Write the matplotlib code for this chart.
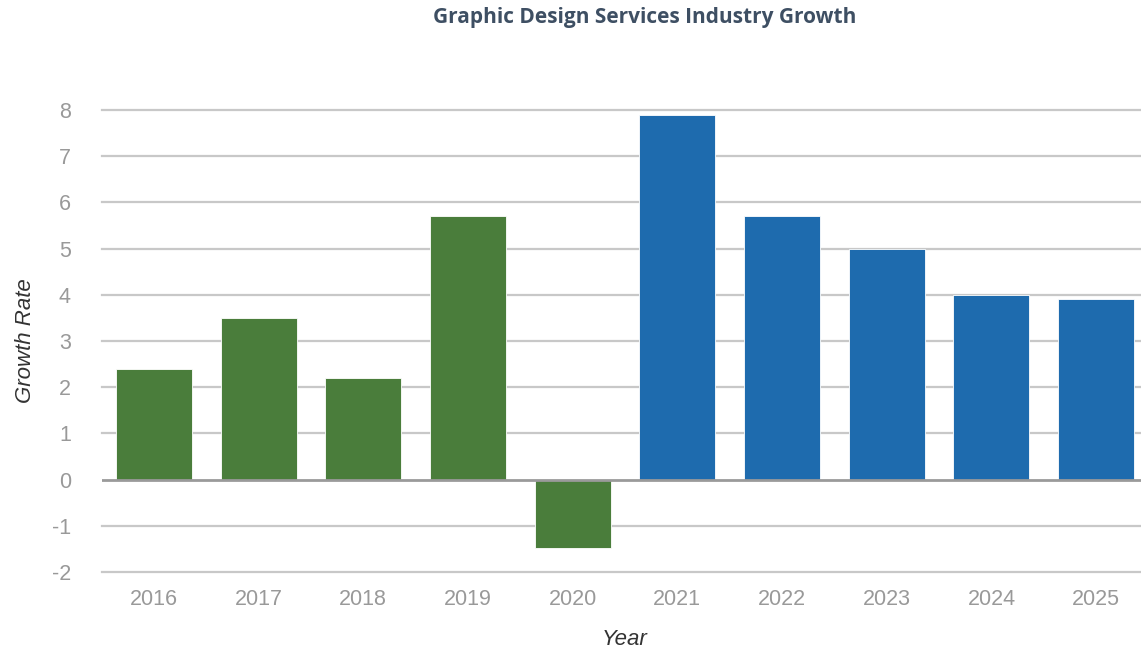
import matplotlib
matplotlib.use("Agg")
import matplotlib.pyplot as plt

years = ["2016", "2017", "2018", "2019", "2020", "2021", "2022", "2023", "2024", "2025"]
growth = [2.4, 3.5, 2.2, 5.7, -1.47, 7.9, 5.7, 5.0, 4.0, 3.9]
colors = ["#4a7d3b"] * 5 + ["#1e6bae"] * 5
y_ticks = [-2, -1, 0, 1, 2, 3, 4, 5, 6, 7, 8]

W, H = 1141, 651
fig = plt.figure(figsize=(W / 100, H / 100), dpi=100)
ax = fig.add_axes([101.5 / W, 1 - 572 / H, 1047 / W, 462 / H])

x = range(len(years))
ax.bar(x, growth, width=0.726, color=colors, edgecolor="#ffffff", linewidth=0.6, zorder=3)

ax.set_xlim(-0.5, len(years) - 0.5)
ax.set_ylim(-2, 8)
ax.set_yticks(y_ticks)
ax.set_yticklabels([str(t) for t in y_ticks])
ax.set_xticks(list(x))
ax.set_xticklabels(years)

for t in y_ticks:
    if t != 0:
        ax.axhline(t, color="#c8c8c8", linewidth=1.6, zorder=1, clip_on=False)
ax.axhline(0, color="#9a9a9a", linewidth=2.0, zorder=4)

for s in ax.spines.values():
    s.set_visible(False)

ax.tick_params(axis="both", length=0, labelsize=15.5, labelcolor="#999999")
ax.tick_params(axis="y", pad=22)
ax.tick_params(axis="x", pad=12)
for lab in ax.get_xticklabels() + ax.get_yticklabels():
    lab.set_fontfamily("Liberation Sans")

ax.set_xlabel("Year", fontsize=16, fontstyle="italic", color="#333333",
              family="Liberation Sans", labelpad=14)
ax.set_ylabel("Growth Rate", fontsize=16, fontstyle="italic", color="#333333",
              family="Liberation Sans", labelpad=11)

fig.text(645 / W, 1 - 17 / H, "Graphic Design Services Industry Growth",
         ha="center", va="center", fontsize=15, fontweight="bold",
         family="Open Sans", color="#3e4f63")

fig.savefig("out.png", dpi=100)
